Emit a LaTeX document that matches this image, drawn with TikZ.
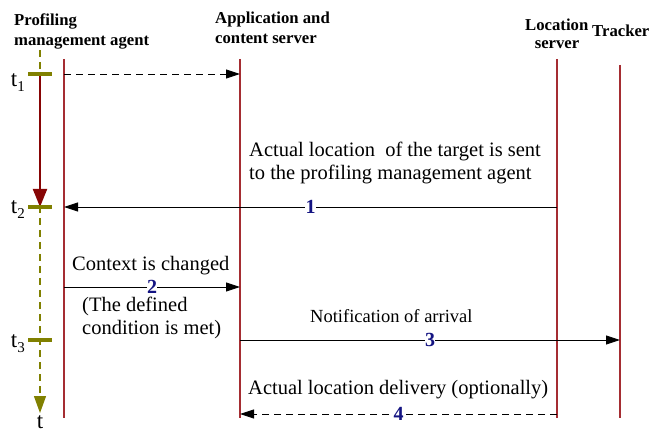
\documentclass[tikz,border=0pt]{standalone}
\usepackage{fontspec}
\setmainfont{Liberation Serif}
\usetikzlibrary{arrows.meta}
\definecolor{life}{RGB}{165,45,50}
\definecolor{axisc}{RGB}{128,128,0}
\definecolor{darr}{RGB}{135,5,5}
\definecolor{numc}{RGB}{20,20,130}
\newcommand{\tsub}[1]{t{\fontsize{15}{15}\selectfont\raisebox{-5pt}{#1}}}
\begin{document}
\begin{tikzpicture}[x=1pt,y=-1pt,
  lifeline/.style={draw=life, line width=1.3pt},
  msg/.style={-{Triangle[length=14pt,width=9pt]}, line width=0.9pt},
  dmsg/.style={msg, dash pattern=on 7pt off 5pt},
  txt/.style={font=\fontsize{20.5}{24}\selectfont, inner sep=0pt, anchor=base west},
  hdr/.style={font=\fontsize{16.7}{20}\selectfont\bfseries, inner sep=0pt, anchor=base west},
  numlbl/.style={font=\fontsize{20}{20}\selectfont\bfseries, text=numc, fill=white, inner sep=0.3pt},
  tickmark/.style={draw=axisc, line width=3.2pt},
  tlbl/.style={font=\fontsize{23}{23}\selectfont, inner sep=0pt, anchor=base east},
]
\useasboundingbox (0,0) rectangle (653,430);

% headers
\node[hdr] (h1a) at (14,26) {Profiling};
\node[hdr] (h1b) at (14,46) {management agent};
\node[hdr] (h2a) at (215,24) {Application and};
\node[hdr] (h2b) at (215,44) {content server};
\node[hdr] (h3a) at (525,31) {Location};
\node[hdr, anchor=base] (h3b) at (557,49) {server};
\node[hdr] (h4) at (592,37) {Tracker};

% lifelines
\coordinate (P0) at (64,59);  \coordinate (P1) at (64,418);
\coordinate (A0) at (240,59); \coordinate (A1) at (240,418);
\coordinate (L0) at (557,59); \coordinate (L1) at (557,418);
\coordinate (T0) at (620,65); \coordinate (T1) at (620,418);
\draw[lifeline] (P0) -- (P1);
\draw[lifeline] (A0) -- (A1);
\draw[lifeline] (L0) -- (L1);
\draw[lifeline] (T0) -- (T1);

% time axis
\coordinate (ax0) at (40,50);
\coordinate (ax1) at (40,413);
\coordinate (t1) at (40,74);
\coordinate (t2) at (40,207);
\coordinate (t3) at (40,340);
\coordinate (y2) at (40,287);
\coordinate (y4) at (40,414);
\draw[axisc, line width=1.2pt, dash pattern=on 7pt off 5pt,
      -{Triangle[length=17pt,width=12pt]}] (ax0) -- (ax1);
\draw[darr, line width=2pt, -{Triangle[length=18pt,width=14pt]}] (t1) -- (t2);
\draw[tickmark] ([xshift=-12pt]t1) -- ([xshift=12pt]t1);
\draw[tickmark] ([xshift=-12pt]t2) -- ([xshift=12pt]t2);
\draw[tickmark] ([xshift=-12pt]t3) -- ([xshift=12pt]t3);
\node[tlbl] (lt1) at (25,87) {\tsub{1}};
\node[tlbl] (lt2) at (25,214) {\tsub{2}};
\node[tlbl] (lt3) at (25,347) {\tsub{3}};
\node[font=\fontsize{23}{23}\selectfont, inner sep=0pt, anchor=base] (lt) at (40,428) {t};

% messages
\draw[dmsg] (P0 |- t1) -- (A0 |- t1);
\draw[msg] (L0 |- t2) -- node[numlbl] {1} (P0 |- t2);
\draw[msg] (P0 |- y2) -- node[numlbl] {2} (A0 |- y2);
\draw[msg] (A0 |- t3) -- node[numlbl] {3} (T0 |- t3);
\draw[dmsg] (L0 |- y4) -- node[numlbl] {4} (A0 |- y4);

% texts
\node[txt] (m1a) at (249,157) {Actual location\ \ of the target is sent};
\node[txt] (m1b) at (249,180) {to the profiling management agent};
\node[txt] (m2a) at (72,271) {Context is changed};
\node[txt] (m2b) at (82,311) {(The defined};
\node[txt] (m2c) at (82,334) {condition is met)};
\node[txt, font=\fontsize{18.5}{22}\selectfont] (m3) at (310,323) {Notification of arrival};
\node[txt] (m4) at (248,394) {Actual location delivery (optionally)};
\end{tikzpicture}
\end{document}
